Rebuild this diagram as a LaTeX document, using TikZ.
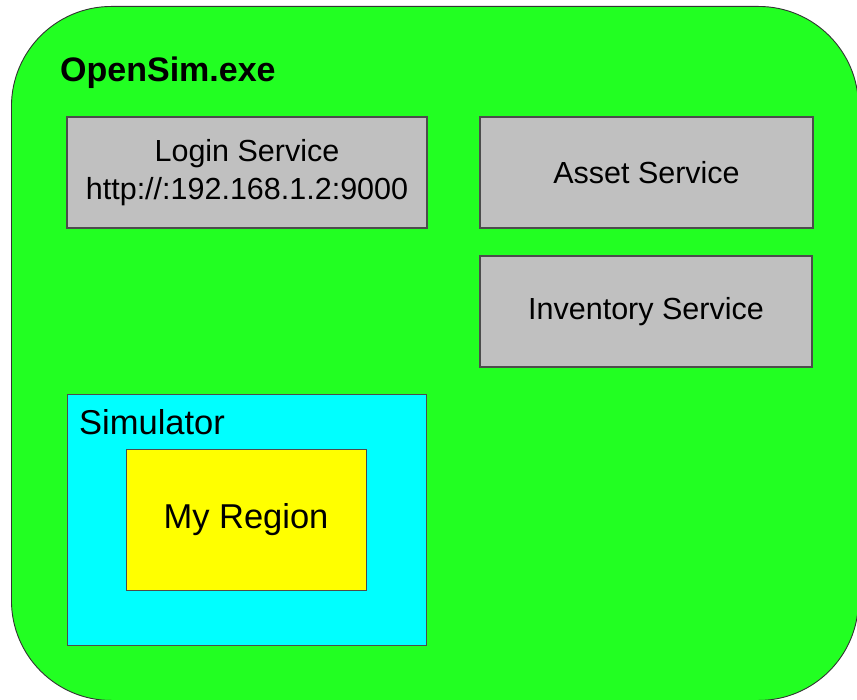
\documentclass[tikz,border=0pt]{standalone}
\usepackage{fontspec}
\setmainfont{Liberation Sans}
\begin{document}
\begin{tikzpicture}[x=1pt,y=-1pt,
  svc/.style={draw=black!70, line width=1.2pt, fill=servicegray, minimum width=#1, minimum height=111pt, inner sep=0pt, font=\fontsize{30.5}{38}\selectfont, align=center},
  svc/.default=333pt]
\definecolor{servicegray}{HTML}{C0C0C0}
\definecolor{appgreen}{HTML}{22FF22}
\definecolor{simcyan}{HTML}{00FFFF}
\definecolor{regionyellow}{HTML}{FFFF00}
\useasboundingbox (0,0) rectangle (857,700);
\fill[white] (0,0) rectangle (857,700);
\node[draw=black!80, line width=0.9pt, fill=appgreen, rounded corners=100pt, minimum width=847pt, minimum height=694pt, inner sep=0pt, anchor=north west] (app) at (11,6) {};
\node[anchor=base west, inner sep=0pt, font=\fontsize{34}{40}\selectfont\bfseries] (apptitle) at (60,82) {OpenSim.exe};
\node[svc=360pt] (login) at (247,172.5) {Login Service\\http://:192.168.1.2:9000};
\node[svc=333pt] (asset) at (646.5,172.5) {Asset Service};
\node[svc=332pt] (inventory) at (646,311.5) {Inventory Service};
\node[draw=black!70, line width=1pt, fill=simcyan, minimum width=359pt, minimum height=250pt, inner sep=0pt] (sim) at (246.5,520) {};
\node[anchor=base west, inner sep=0pt, font=\fontsize{34.5}{40}\selectfont] (simtitle) at (79,435) {Simulator};
\node[draw=black!70, line width=1pt, fill=regionyellow, minimum width=240pt, minimum height=140pt, inner sep=0pt, font=\fontsize{34.5}{40}\selectfont] (region) at (246,520) {My Region};
\end{tikzpicture}
\end{document}
